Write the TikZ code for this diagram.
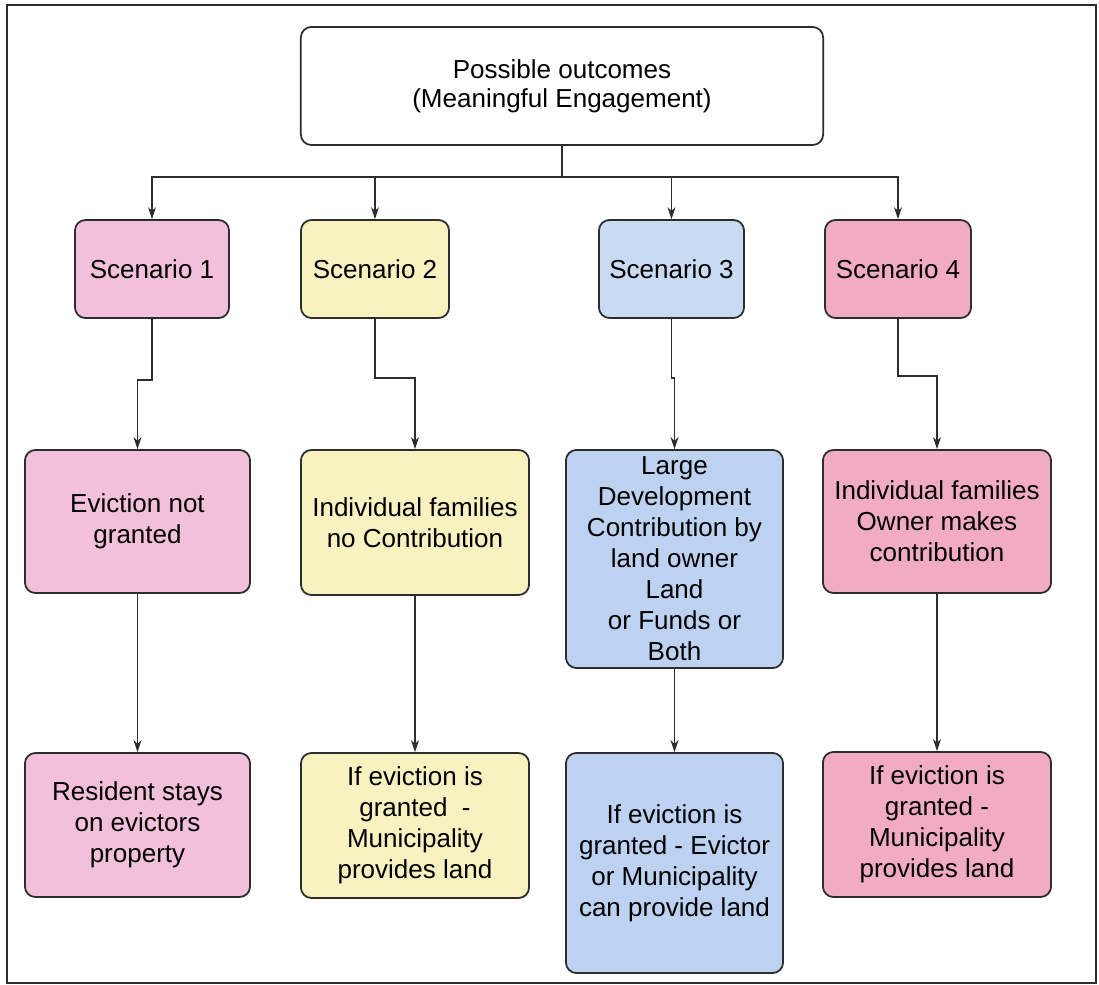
\documentclass[tikz,border=0pt]{standalone}
\usepackage{fontspec}
\setmainfont{Liberation Sans}
\usepackage{tikz}
\usetikzlibrary{arrows.meta, positioning, calc}
\definecolor{pinkcolor}{RGB}{242,192,218}
\definecolor{rosecolor}{RGB}{241,172,196}
\definecolor{yellowcolor}{RGB}{247,242,192}
\definecolor{bluecolor}{RGB}{188,210,240}
\definecolor{linecolor}{RGB}{45,45,45}

\begin{document}
\begin{tikzpicture}[
    x=0.01cm, y=-0.01cm,
    box/.style={draw=linecolor, line width=0.5pt, rounded corners=3pt, inner sep=1pt, align=center, font=\fontsize{7.4}{8.8}\selectfont},
    arrow/.style={-{Stealth[length=1.2mm, width=0.8mm]}, line width=0.45pt, linecolor}
]
    % frame
    \draw[line width=0.6pt, linecolor] (7,5) rectangle (1096,983);
    \useasboundingbox (0,0) rectangle (1099,985);

    % top
    \node[box, fill=white, minimum width=5.22cm, minimum height=1.18cm, font=\fontsize{7.4}{8.3}\selectfont] (top) at (562,86) {Possible outcomes\\(Meaningful Engagement)};

    % scenarios
    \node[box, fill=pinkcolor, minimum width=1.54cm, minimum height=0.98cm] (sc1) at (152,269) {Scenario 1};
    \node[box, fill=yellowcolor, minimum width=1.48cm, minimum height=0.98cm] (sc2) at (375,269) {Scenario 2};
    \node[box, fill=bluecolor!80!white, minimum width=1.45cm, minimum height=0.98cm] (sc3) at (671.5,269) {Scenario 3};
    \node[box, fill=rosecolor, minimum width=1.46cm, minimum height=0.98cm] (sc4) at (898,269) {Scenario 4};

    % second row
    \node[box, fill=pinkcolor, minimum width=2.25cm, minimum height=1.43cm] (nogrant) at (137.5,521.5) {Eviction not\\granted};
    \node[box, fill=yellowcolor, minimum width=2.28cm, minimum height=1.45cm] (nocontrib) at (415,522.5) {Individual families\\no Contribution};
    \node[box, fill=bluecolor, minimum width=2.17cm, minimum height=2.18cm] (largedev) at (674.5,559) {Large\\Development\\Contribution by\\land owner\\Land\\ or Funds or\\Both};
    \node[box, fill=rosecolor, minimum width=2.28cm, minimum height=1.43cm] (ownercontrib) at (937,521.5) {Individual families\\Owner makes\\contribution};

    % third row
    \node[box, fill=pinkcolor, minimum width=2.25cm, minimum height=1.44cm] (stays) at (137.5,825) {Resident stays\\on evictors\\property};
    \node[box, fill=yellowcolor, minimum width=2.28cm, minimum height=1.45cm] (munic2) at (415,825.5) {If eviction is\\granted\ \ -\\Municipality\\provides land};
    \node[box, fill=bluecolor, minimum width=2.17cm, minimum height=2.2cm] (either) at (674.5,863) {If eviction is\\granted - Evictor\\or Municipality\\can provide land};
    \node[box, fill=rosecolor, minimum width=2.28cm, minimum height=1.45cm] (munic4) at (937,824.5) {If eviction is\\granted -\\Municipality\\provides land};

    % branches from top
    \draw[line width=0.45pt, linecolor] (top.south) -- ++(0,31) coordinate (bus);
    \draw[arrow] (bus) -| (sc1.north);
    \draw[arrow] (bus) -| (sc2.north);
    \draw[arrow] (bus) -| (sc3.north);
    \draw[arrow] (bus) -| (sc4.north);

    % scenarios to outcomes
    \draw[arrow] (sc1.south) -- ++(0,61) -| (nogrant.north);
    \draw[arrow] (sc2.south) -- ++(0,59) -| (nocontrib.north);
    \draw[arrow] (sc3.south) -- ++(0,59) -| (largedev.north);
    \draw[arrow] (sc4.south) -- ++(0,57) -| (ownercontrib.north);

    % outcomes to results
    \draw[arrow] (nogrant) -- (stays);
    \draw[arrow] (nocontrib) -- (munic2);
    \draw[arrow] (largedev) -- (either);
    \draw[arrow] (ownercontrib) -- (munic4);
\end{tikzpicture}
\end{document}
